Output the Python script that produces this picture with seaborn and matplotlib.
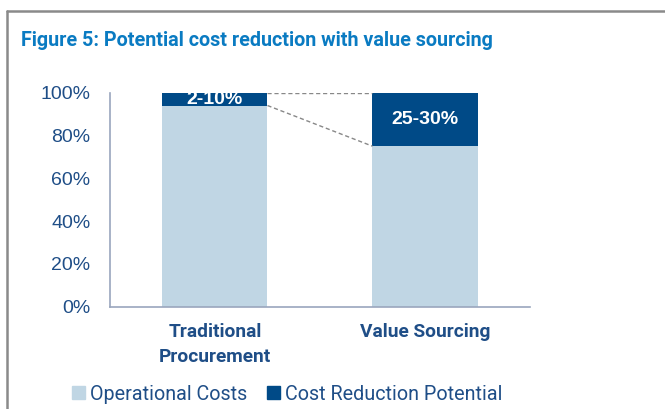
import matplotlib
matplotlib.use("Agg")
import matplotlib.pyplot as plt
import pandas as pd
import seaborn as sns
from matplotlib import font_manager
from matplotlib.lines import Line2D
from matplotlib.patches import Patch

# Chart data
categories = ["Traditional\nProcurement", "Value Sourcing"]
operational_costs = [94, 75]
cost_reduction = [6, 25]
reduction_labels = ["2-10%", "25-30%"]
series_names = ["Operational Costs", "Cost Reduction Potential"]
title = "Figure 5: Potential cost reduction with value sourcing"

LIGHT = "#c0d6e4"
DARK = "#004a87"
TEXT = "#1f4e87"
AXIS = "#9aa6bd"

names = {f.name for f in font_manager.fontManager.ttflist}
narrow = "Liberation Sans Narrow" if "Liberation Sans Narrow" in names else "Roboto"

df = pd.DataFrame({
    "category": categories,
    "operational": operational_costs,
    "reduction": cost_reduction,
})
df["total"] = df["operational"] + df["reduction"]

sns.set_style("white")
plt.rcParams["font.family"] = ["Liberation Sans", "DejaVu Sans"]

fig = plt.figure(figsize=(6.65, 4.09), dpi=100)
ax = fig.add_axes([0.1654, 0.250, 0.6316, 0.5234])

# stacked bars: full height in dark, operational part on top in light
sns.barplot(data=df, x="category", y="total", color=DARK, width=0.5,
            saturation=1, ax=ax, linewidth=0)
sns.barplot(data=df, x="category", y="operational", color=LIGHT, width=0.5,
            saturation=1, ax=ax, linewidth=0)

ax.set_xlim(-0.5, 1.5)
ax.set_ylim(0, 100)
ax.set_yticks(range(0, 101, 20))
ax.set_yticklabels([f"{v}%" for v in range(0, 101, 20)], fontsize=14, color=TEXT)
ax.set_xticklabels(categories, fontsize=13.8, fontweight="bold", color=TEXT,
                   family=narrow, linespacing=1.45, va="top")
ax.set_xlabel("")
ax.set_ylabel("")
ax.tick_params(axis="y", direction="out", length=6, color=AXIS, width=1, pad=8)
ax.tick_params(axis="x", length=0, pad=12)
for side in ["top", "right"]:
    ax.spines[side].set_visible(False)
for side in ["left", "bottom"]:
    ax.spines[side].set_color(AXIS)
    ax.spines[side].set_linewidth(1.2)

# labels inside the dark segments
for i, row in df.iterrows():
    y = (row["operational"] + row["total"]) / 2
    ax.text(i, y, reduction_labels[i], ha="center", va="center", color="white",
            fontsize=14, fontweight="bold")

# dashed connectors between the bars
half = 0.25
ax.plot([0 + half, 1 - half], [df["total"][0], df["total"][1]],
        ls=(0, (3, 2)), color="#888888", lw=1)
ax.plot([0 + half, 1 - half], [df["operational"][0], df["operational"][1]],
        ls=(0, (3, 2)), color="#888888", lw=1)

# title and frame lines
fig.text(0.032, 0.9, title, fontsize=14.2, fontweight="bold", color="#0a7bc2",
         family=narrow, va="center", ha="left")
fig.add_artist(Line2D([0.0105, 1.0], [0.973, 0.973], color="#8a8a8a", lw=1.8))
fig.add_artist(Line2D([0.0105, 0.0105], [0.0, 0.973], color="#8a8a8a", lw=1.8))

handles = [Patch(color=LIGHT), Patch(color=DARK)]
leg = fig.legend(handles, series_names, loc="center left", bbox_to_anchor=(0.082, 0.036),
                 ncol=2, frameon=False, handlelength=0.65, handleheight=0.65,
                 handletextpad=0.25, columnspacing=1.0,
                 prop={"family": narrow, "size": 14.2})
for t in leg.get_texts():
    t.set_color(TEXT)

fig.savefig("out.png", dpi=100, facecolor="white")
